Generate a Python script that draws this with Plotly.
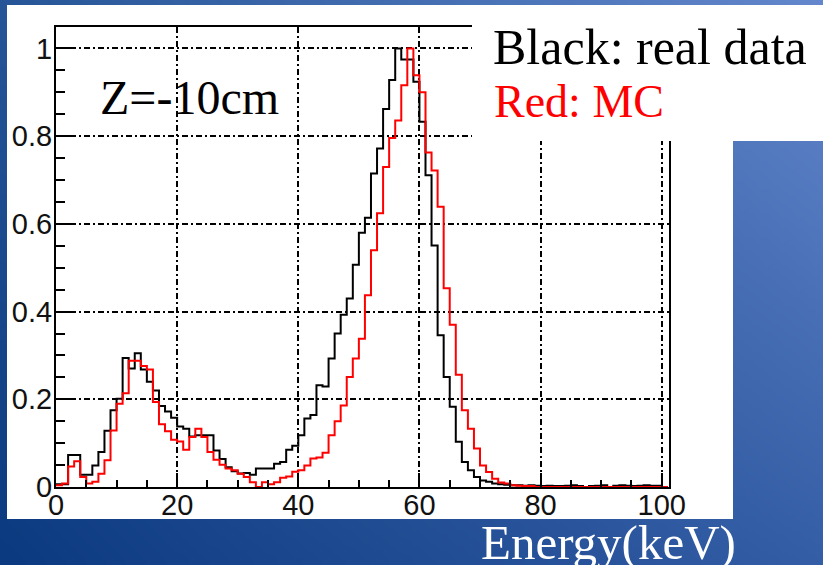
import base64
import struct
import zlib

import numpy as np
import plotly.graph_objects as go

# ---- data: normalised energy spectra, 1 keV bins from 0 to 101 keV ----
bin_edges = list(range(0, 102))

real_data = [
    0.006, 0.006, 0.073, 0.073, 0.028, 0.028, 0.049, 0.080, 0.128, 0.175,
    0.201, 0.294, 0.270, 0.305, 0.268, 0.240, 0.220, 0.185, 0.172, 0.158,
    0.138, 0.133, 0.115, 0.118, 0.118, 0.118, 0.083, 0.064, 0.045, 0.036,
    0.031, 0.032, 0.028, 0.042, 0.042, 0.042, 0.053, 0.057, 0.085, 0.094,
    0.118, 0.156, 0.164, 0.232, 0.229, 0.293, 0.350, 0.393, 0.430, 0.507,
    0.580, 0.614, 0.715, 0.772, 0.862, 0.928, 1.000, 0.975, 0.975, 0.924,
    0.833, 0.711, 0.551, 0.346, 0.251, 0.183, 0.103, 0.057, 0.038, 0.023,
    0.015, 0.012, 0.008, 0.006, 0.005, 0.004, 0.004, 0.003, 0.004, 0.003,
    0.002, 0.003, 0.002, 0.002, 0.003, 0.004, 0.002, 0.000, 0.002, 0.003,
    0.004, 0.000, 0.003, 0.004, 0.003, 0.002, 0.003, 0.004, 0.003, 0.003,
    0.000,
]

monte_carlo = [
    0.004, 0.008, 0.047, 0.059, 0.023, 0.008, 0.012, 0.030, 0.061, 0.129,
    0.190, 0.214, 0.288, 0.288, 0.276, 0.268, 0.194, 0.143, 0.127, 0.108,
    0.104, 0.085, 0.114, 0.133, 0.114, 0.080, 0.062, 0.051, 0.042, 0.038,
    0.030, 0.023, 0.011, 0.000, 0.011, 0.006, 0.011, 0.021, 0.024, 0.035,
    0.038, 0.049, 0.065, 0.067, 0.078, 0.118, 0.150, 0.186, 0.251, 0.293,
    0.338, 0.437, 0.540, 0.624, 0.730, 0.796, 0.836, 0.916, 1.000, 0.939,
    0.900, 0.763, 0.722, 0.639, 0.453, 0.370, 0.256, 0.175, 0.133, 0.088,
    0.049, 0.034, 0.019, 0.010, 0.008, 0.004, 0.003, 0.002, 0.002, 0.000,
    0.000, 0.000, 0.000, 0.000, 0.000, 0.000, 0.000, 0.000, 0.000, 0.000,
    0.000, 0.000, 0.000, 0.000, 0.000, 0.000, 0.000, 0.000, 0.000, 0.000,
    0.000,
]

x_ticks = [0, 20, 40, 60, 80, 100]
y_ticks = [0, 0.2, 0.4, 0.6, 0.8, 1]
y_tick_text = ["0", "0.2", "0.4", "0.6", "0.8", "1"]

# ---- page geometry ----
W, H = 823, 565
ML, MR, MT, MB = 56, 154, 27, 78
PW, PH = W - ML - MR, H - MT - MB


def px(x):
    return (x - ML) / PW


def py(y):
    return (H - MB - y) / PH


def gradient_png(w, h):
    """Slide-style blue background as an inline PNG."""
    tl = np.array([38, 86, 152], float)
    tr = np.array([100, 135, 205], float)
    bl = np.array([12, 58, 128], float)
    br = np.array([52, 94, 166], float)
    u = np.linspace(0, 1, w)[None, :, None]
    v = np.linspace(0, 1, h)[:, None, None]
    img = (tl * (1 - u) * (1 - v) + tr * u * (1 - v) + bl * (1 - u) * v + br * u * v)
    img = img.clip(0, 255).astype(np.uint8)
    raw = b"".join(b"\x00" + img[j].tobytes() for j in range(h))

    def chunk(tag, data):
        body = tag + data
        return struct.pack(">I", len(data)) + body + struct.pack(">I", zlib.crc32(body) & 0xFFFFFFFF)

    png = (b"\x89PNG\r\n\x1a\n"
           + chunk(b"IHDR", struct.pack(">IIBBBBB", w, h, 8, 2, 0, 0, 0))
           + chunk(b"IDAT", zlib.compress(raw))
           + chunk(b"IEND", b""))
    return "data:image/png;base64," + base64.b64encode(png).decode()


def step_trace(values, color):
    return go.Scatter(
        x=bin_edges,
        y=values + [values[-1]],
        mode="lines",
        line=dict(color=color, width=2, shape="hv"),
        hoverinfo="skip",
        showlegend=False,
    )


fig = go.Figure()
fig.add_trace(step_trace(real_data, "black"))
fig.add_trace(step_trace(monte_carlo, "#ff0000"))

tick_font = dict(family="Liberation Sans, Arial, sans-serif", size=29, color="#111111")
grid_dash = "6px,3px,2px,3px"

fig.update_xaxes(
    range=[0, 101.2],
    tickvals=x_ticks,
    ticks="inside", ticklen=14, tickwidth=2, tickcolor="black",
    ticklabelstandoff=-9,
    showline=True, linecolor="black", linewidth=2, mirror=True,
    showgrid=True, gridcolor="black", gridwidth=1.6, griddash=grid_dash,
    zeroline=False,
    minor=dict(dtick=5, tick0=0, ticks="inside", ticklen=7, tickwidth=2,
               tickcolor="black", showgrid=False),
    tickfont=tick_font,
)
fig.update_yaxes(
    range=[0, 1.049],
    tickvals=y_ticks,
    ticktext=y_tick_text,
    ticks="inside", ticklen=18, tickwidth=2, tickcolor="black",
    ticklabelstandoff=-4,
    showline=True, linecolor="black", linewidth=2, mirror=True,
    showgrid=True, gridcolor="black", gridwidth=1.6, griddash=grid_dash,
    zeroline=False,
    minor=dict(dtick=0.05, tick0=0, ticks="inside", ticklen=9, tickwidth=2,
               tickcolor="black", showgrid=False),
    tickfont=tick_font,
)

shapes = [
    # white canvas behind the histogram
    dict(type="rect", xref="paper", yref="paper", layer="below",
         x0=px(7), x1=px(733), y0=py(519), y1=py(5),
         fillcolor="white", line=dict(width=0)),
    # white label box in the upper right corner
    dict(type="rect", xref="paper", yref="paper", layer="above",
         x0=px(472), x1=px(W + 2), y0=py(141), y1=py(5),
         fillcolor="white", line=dict(width=0)),
]

serif = "Liberation Serif, Times New Roman, serif"
annotations = [
    dict(text="Z=-10cm", x=px(99), y=py(97), font=dict(family=serif, size=48, color="black")),
    dict(text="Black: real data", x=px(492), y=py(47), font=dict(family=serif, size=50, color="black")),
    dict(text="Red: MC", x=px(493), y=py(102), font=dict(family=serif, size=46, color="#ff0000")),
    dict(text="Energy(keV)", x=px(480), y=py(542), font=dict(family=serif, size=49, color="white")),
]
for a in annotations:
    a.update(xref="paper", yref="paper", xanchor="left", yanchor="middle",
             showarrow=False, borderpad=0)

fig.update_layout(
    width=W, height=H,
    margin=dict(l=ML, r=MR, t=MT, b=MB, pad=0),
    paper_bgcolor="#2a5596",
    plot_bgcolor="rgba(0,0,0,0)",
    shapes=shapes,
    annotations=annotations,
    images=[dict(source=gradient_png(206, 142), xref="paper", yref="paper",
                 x=px(0), y=py(0), sizex=W / PW, sizey=H / PH,
                 xanchor="left", yanchor="top", sizing="stretch", layer="below")],
    showlegend=False,
)

fig.write_html("out.html")
